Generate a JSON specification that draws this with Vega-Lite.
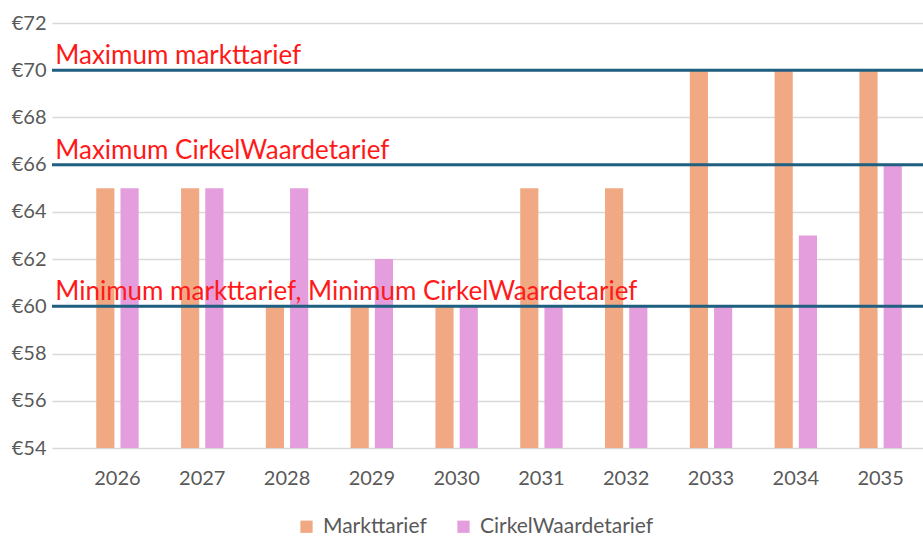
{
  "$schema": "https://vega.github.io/schema/vega-lite/v6.json",
  "width": 871,
  "height": 425,
  "autosize": {"type": "none"},
  "padding": {"left": 52, "top": 23, "right": 0, "bottom": 91},
  "background": "white",
  "config": {
    "view": {"stroke": null},
    "font": "Lato",
    "axis": {"labelFont": "Lato", "labelColor": "#595959", "labelFontSize": 20, "domain": false, "ticks": false, "gridColor": "#d9d9d9", "gridWidth": 1.3, "labelOverlap": false}
  },
  "datasets": {
    "bars": [
      {"year": "2026", "series": "Markttarief", "value": 65},
      {"year": "2026", "series": "CirkelWaardetarief", "value": 65},
      {"year": "2027", "series": "Markttarief", "value": 65},
      {"year": "2027", "series": "CirkelWaardetarief", "value": 65},
      {"year": "2028", "series": "Markttarief", "value": 60},
      {"year": "2028", "series": "CirkelWaardetarief", "value": 65},
      {"year": "2029", "series": "Markttarief", "value": 60},
      {"year": "2029", "series": "CirkelWaardetarief", "value": 62},
      {"year": "2030", "series": "Markttarief", "value": 60},
      {"year": "2030", "series": "CirkelWaardetarief", "value": 60},
      {"year": "2031", "series": "Markttarief", "value": 65},
      {"year": "2031", "series": "CirkelWaardetarief", "value": 60},
      {"year": "2032", "series": "Markttarief", "value": 65},
      {"year": "2032", "series": "CirkelWaardetarief", "value": 60},
      {"year": "2033", "series": "Markttarief", "value": 70},
      {"year": "2033", "series": "CirkelWaardetarief", "value": 60},
      {"year": "2034", "series": "Markttarief", "value": 70},
      {"year": "2034", "series": "CirkelWaardetarief", "value": 63},
      {"year": "2035", "series": "Markttarief", "value": 70},
      {"year": "2035", "series": "CirkelWaardetarief", "value": 66}
    ],
    "refs": [
      {"value": 70, "label": "Maximum markttarief"},
      {"value": 66, "label": "Maximum CirkelWaardetarief"},
      {"value": 60, "label": "Minimum markttarief, Minimum CirkelWaardetarief"}
    ]
  },
  "layer": [
    {
      "data": {"name": "bars"},
      "mark": {"type": "bar", "clip": true},
      "encoding": {
        "x": {
          "field": "year", "type": "nominal",
          "scale": {"paddingInner": 0.5, "paddingOuter": 0.386, "align": 0.676},
          "axis": {"title": null, "labelAngle": 0, "labelPadding": 20, "grid": false}
        },
        "xOffset": {
          "field": "series", "type": "nominal",
          "sort": ["Markttarief", "CirkelWaardetarief"],
          "scale": {"paddingInner": 0.25, "paddingOuter": 0}
        },
        "y": {
          "field": "value", "type": "quantitative",
          "scale": {"domain": [54, 72], "zero": false, "nice": false},
          "axis": {"title": null, "values": [54, 56, 58, 60, 62, 64, 66, 68, 70, 72], "labelExpr": "'€' + datum.value", "labelPadding": 6, "grid": true}
        },
        "color": {
          "field": "series", "type": "nominal",
          "sort": ["Markttarief", "CirkelWaardetarief"],
          "scale": {"domain": ["Markttarief", "CirkelWaardetarief"], "range": ["#F1A983", "#E49EDD"]},
          "legend": {
            "title": null, "orient": "none", "direction": "horizontal",
            "legendX": 244, "legendY": 493,
            "symbolType": "square", "symbolSize": 150, "symbolStrokeWidth": 0, "symbolOffset": 0,
            "labelFontSize": 21, "labelColor": "#595959", "labelFont": "Lato", "labelOffset": 6, "labelLimit": 400,
            "columnPadding": 26
          }
        }
      }
    },
    {
      "data": {"name": "refs"},
      "mark": {"type": "rule", "color": "#1F5F80", "strokeWidth": 3},
      "encoding": {"y": {"field": "value", "type": "quantitative"}}
    },
    {
      "data": {"name": "refs"},
      "mark": {"type": "text", "align": "left", "baseline": "bottom", "color": "#FF1A1A", "fontSize": 26, "font": "Lato", "dx": -41, "dy": -1},
      "encoding": {
        "x": {"datum": "2026", "type": "nominal", "bandPosition": 0},
        "y": {"field": "value", "type": "quantitative"},
        "text": {"field": "label"}
      }
    }
  ]
}
